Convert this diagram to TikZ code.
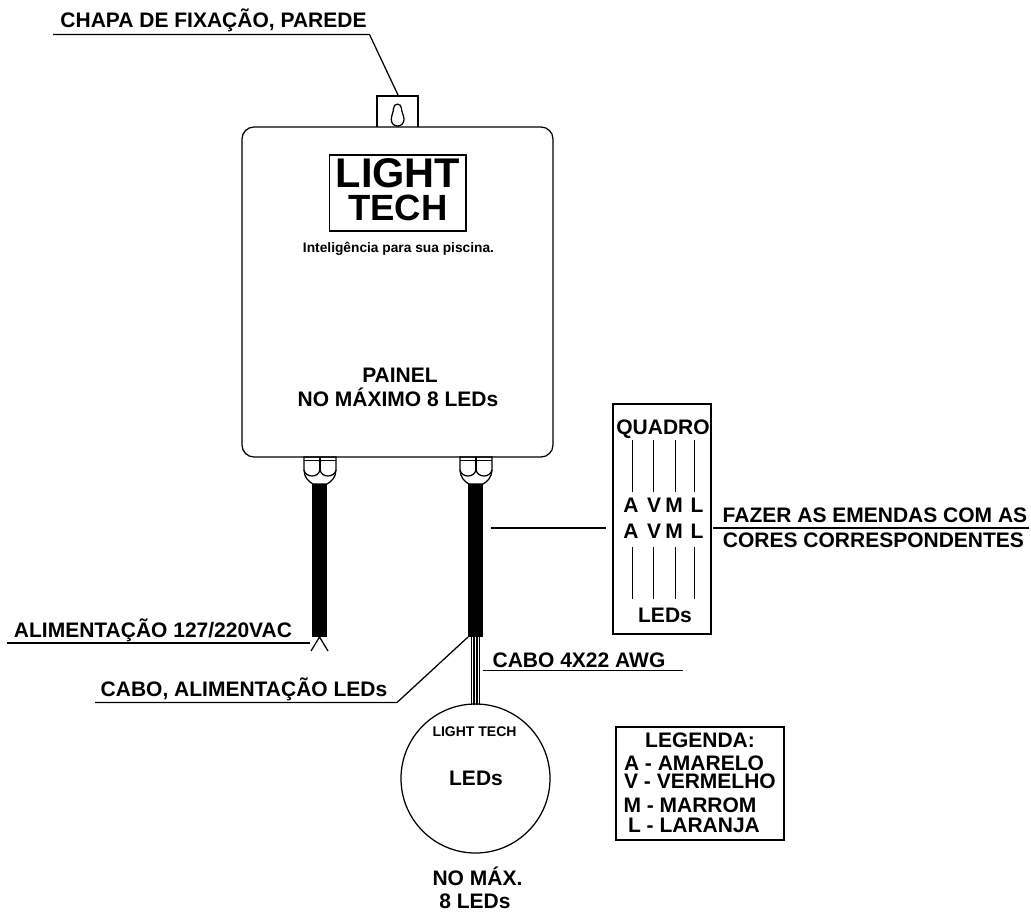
\documentclass[tikz,border=0pt]{standalone}
\usepackage{fontspec}
\setmainfont{Liberation Sans}
\begin{document}
\begin{tikzpicture}[x=1pt,y=-1pt,line width=1.25pt,
  lbl/.style={font=\fontsize{21}{21}\selectfont\bfseries,anchor=base,inner sep=0pt},
  lbs/.style={font=\fontsize{13.75}{13.75}\selectfont\bfseries,anchor=base,inner sep=0pt},
  wire/.style={line width=1pt},
  cable/.style={fill=black,draw=none}]
\useasboundingbox (0,0) rectangle (1031,912);
% painel
\draw[rounded corners=12pt] (242,127) rectangle (553,457);
\coordinate (tabtop) at (398,95);
\draw (377,127) -- (377,96) -- (418,96) -- (418,127);
\draw (397.5,126) .. controls (393.5,126) and (391.3,123) .. (391.3,119.5) .. controls (391.3,115.5) and (393.5,112) .. (393.5,108.5) .. controls (393.5,102.7) and (401.5,102.7) .. (401.5,108.5) .. controls (401.5,112) and (404,115.5) .. (404,119.5) .. controls (404,123) and (401.5,126) .. (397.5,126) -- cycle;
\draw (329.5,155) rectangle (466,231);
\node[lbl,font=\fontsize{41.5}{41.5}\selectfont\bfseries] (light) at (398,188) {LIGHT};
\node[lbl,font=\fontsize{36.5}{36.5}\selectfont\bfseries] (tech) at (398,221) {TECH};
\node[lbs] (intel) at (398.5,252) {Inteligência para sua piscina.};
\node[lbl] (painel) at (400,382) {PAINEL};
\node[lbl] (maximo) at (398,406) {NO MÁXIMO 8 LEDs};
% glands
\foreach \c/\n in {320/gl,476/gr}{
  \draw (\c-16,457) -- (\c-16,470) .. controls (\c-16,477) and (\c-11,482) .. (\c-7,484) -- (\c+7,484) .. controls (\c+11,482) and (\c+16,477) .. (\c+16,470) -- (\c+16,457) -- cycle;
  \draw (\c-16,460.5) -- (\c+16,460.5);
  \draw (\c,457) -- (\c,470);
  \draw (\c-16,470) .. controls (\c-14,478) and (\c-2,478) .. (\c,470) .. controls (\c+2,478) and (\c+14,478) .. (\c+16,470);
}
\path[cable] (312,484) rectangle (327,637);
\path[cable] (468,484) rectangle (483,637);
\coordinate (lcable) at (319.5,637);
\coordinate (rcable) at (468,637);
% prong
\coordinate (pl) at (311,651);
\coordinate (pr) at (328,651);
\draw (pl) -- (lcable) -- (pr);
% wires
\foreach \x in {471.5,474.2,476.9,479.6}{\draw[line width=1.5pt] (\x,637) -- (\x,705);}
% LEDs
\draw (475.5,778.5) circle[radius=74.5];
\node[lbs,font=\fontsize{14}{14}\selectfont\bfseries] (lt) at (474.5,736) {LIGHT TECH};
\node[lbl] (leds) at (476,785) {LEDs};
\node[lbl] (nomax) at (477.5,885) {NO MÁX.};
\node[lbl] (oito) at (475,908) {8 LEDs};
% leaders
\node[lbl] (chapa) at (213.5,27.5) {CHAPA DE FIXAÇÃO, PAREDE};
\draw (53,34.5) -- (369.5,34.5) -- (tabtop);
\node[lbl] (alim) at (153,637) {ALIMENTAÇÃO 127/220VAC};
\draw (7,643) -- (310,643);
\node[lbl] (cabo) at (244,696) {CABO, ALIMENTAÇÃO LEDs};
\draw (95,702.5) -- (397,702.5) -- (rcable);
\node[lbl] (cabo4) at (579,667) {CABO 4X22 AWG};
\draw (483,670.5) -- (683,670.5);
% quadro
\draw (613,404) rectangle (711,634);
\node[lbl] (quadro) at (663,434) {QUADRO};
\foreach \x/\y/\t in {632/631/A,653/654/V,675/674/M,694/697/L}{
  \draw[wire] (\x,440) -- (\x,492);
  \draw[wire] (\x,547) -- (\x,599);
  \node[lbl] at (\y,512) {\t};
  \node[lbl] at (\y,538) {\t};
}
\node[lbl] (ledsq) at (665,622) {LEDs};
\draw (491,528) -- (606,528);
\draw (713,528) -- (1029,528);
\node[lbl] (fazer) at (875,522) {FAZER AS EMENDAS COM AS};
\node[lbl] (cores) at (873.5,547) {CORES CORRESPONDENTES};
% legenda
\draw (616,727) rectangle (784,840);
\node[lbl] (leg) at (700,747) {LEGENDA:};
\node[lbl] (la) at (694,770) {A - AMARELO};
\node[lbl] (lv) at (700,788) {V - VERMELHO};
\node[lbl] (lm) at (690,812) {M - MARROM};
\node[lbl] (ll) at (694,832) {L - LARANJA};
\end{tikzpicture}
\end{document}
